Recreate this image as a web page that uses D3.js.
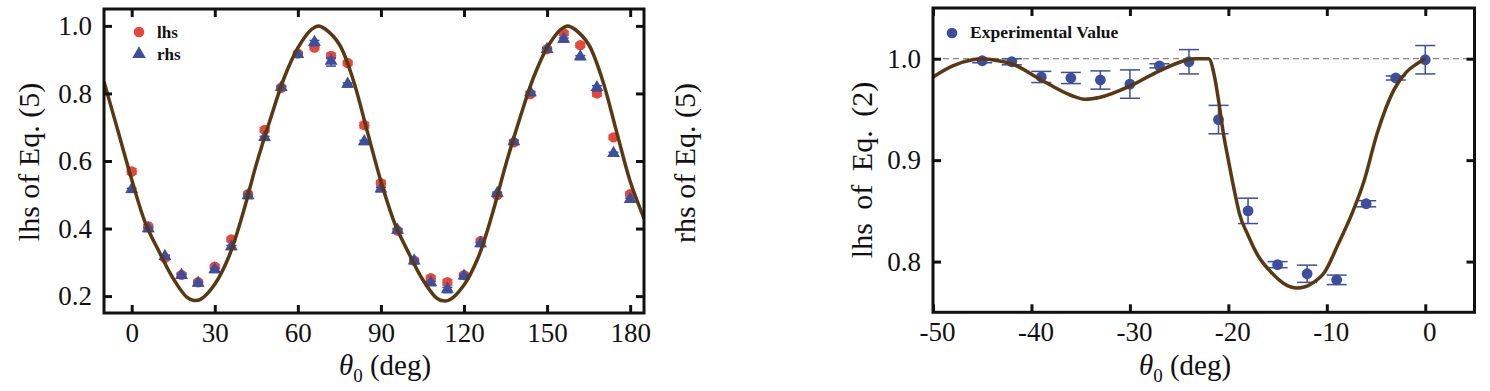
<!DOCTYPE html>
<html>
<head>
<meta charset="utf-8">
<script src="https://cdn.jsdelivr.net/npm/d3@7"></script>
<style>
  body { margin: 0; background: #fff; }
  svg { display: block; }
  text { font-family: "Liberation Serif", "Times New Roman", serif; fill: #111; }
</style>
</head>
<body>
<svg id="chart" width="1490" height="391"></svg>
<script>
// ---------------- Data: left panel (Eq. 5) ----------------
const leftTheta = [0, 6, 12, 18, 24, 30, 36, 42, 48, 54, 60, 66, 72, 78, 84, 90,
                   96, 102, 108, 114, 120, 126, 132, 138, 144, 150, 156, 162, 168, 174, 180];
const lhsVals = [0.569, 0.406, 0.313, 0.263, 0.241, 0.287, 0.368, 0.502, 0.692, 0.817, 0.918, 0.936, 0.911, 0.890, 0.706, 0.534,
                 0.394, 0.305, 0.253, 0.241, 0.262, 0.363, 0.499, 0.655, 0.798, 0.931, 0.978, 0.943, 0.800, 0.670, 0.502];
const rhsVals = [0.513, 0.397, 0.315, 0.259, 0.236, 0.276, 0.344, 0.495, 0.667, 0.815, 0.913, 0.949, 0.893, 0.825, 0.655, 0.515,
                 0.393, 0.302, 0.237, 0.218, 0.257, 0.353, 0.502, 0.655, 0.800, 0.928, 0.958, 0.906, 0.815, 0.620, 0.484];
const lhsErr = [0.008, 0.006, 0.006, 0.006, 0.006, 0.006, 0.006, 0.006, 0.006, 0.006, 0.006, 0.006, 0.008, 0.006, 0.008, 0.008,
                0.006, 0.006, 0.006, 0.008, 0.006, 0.006, 0.006, 0.006, 0.006, 0.006, 0.006, 0.006, 0.008, 0.006, 0.006];
const rhsErr = [0.006, 0.006, 0.006, 0.006, 0.006, 0.006, 0.006, 0.006, 0.006, 0.006, 0.006, 0.008, 0.012, 0.006, 0.006, 0.006,
                0.006, 0.006, 0.006, 0.008, 0.006, 0.006, 0.006, 0.006, 0.006, 0.006, 0.006, 0.006, 0.008, 0.006, 0.006];
const curve5Theta = [-10, -5, 0, 5, 10, 15, 20, 22.5, 25, 30, 35, 40, 45, 50, 55, 60, 65, 67.5, 70, 75, 80, 85,
                     90, 95, 100, 105, 110, 112.5, 115, 120, 125, 130, 135, 140, 145, 150, 155, 157.5, 160, 165, 170, 175, 180, 185];
const curve5Vals = [0.835, 0.69, 0.545, 0.415, 0.330, 0.252, 0.196, 0.187, 0.191, 0.235, 0.315, 0.440, 0.590, 0.722, 0.845, 0.935, 0.990, 1.000, 0.990, 0.945, 0.840, 0.690,
                    0.540, 0.415, 0.328, 0.250, 0.195, 0.186, 0.190, 0.233, 0.312, 0.437, 0.587, 0.722, 0.845, 0.935, 0.990, 1.000, 0.990, 0.945, 0.840, 0.690, 0.540, 0.430];
const leftXTicks = [0, 30, 60, 90, 120, 150, 180];
const leftYTicks = [0.2, 0.4, 0.6, 0.8, 1.0];

// ---------------- Data: right panel (Eq. 2) ----------------
const rightTheta = [-45, -42, -39, -36, -33, -30, -27, -24, -21, -18, -15, -12, -9, -6, -3, 0];
const expVals = [0.998, 0.997, 0.982, 0.981, 0.979, 0.975, 0.993, 0.997, 0.940, 0.850, 0.797, 0.788, 0.782, 0.857, 0.981, 0.999];
const expErr  = [0.002, 0.003, 0.0055, 0.0055, 0.009, 0.014, 0.002, 0.012, 0.014, 0.0125, 0.003, 0.0085, 0.0047, 0.003, 0.002, 0.014];
const curve2Theta = [-50, -48, -46, -45, -44, -42, -39, -36, -34.5, -33, -30, -27, -24.5, -23.5, -22, -21.4, -21, -20.5, -20,
                     -19.2, -18.9, -18, -17, -15.7, -14.3, -13, -11.6, -10.2, -8.9, -7.5, -6.2, -4.9, -3.2, -1.9, -0.85, 0];
const curve2Vals = [0.982, 0.993, 0.999, 1.000, 0.999, 0.995, 0.979, 0.964, 0.960, 0.962, 0.973, 0.988, 0.998, 1.000, 1.000, 0.982, 0.959, 0.926, 0.900,
                    0.861, 0.848, 0.826, 0.806, 0.790, 0.778, 0.774, 0.778, 0.790, 0.816, 0.846, 0.880, 0.926, 0.969, 0.987, 0.995, 1.000];
const rightXTicks = [-50, -40, -30, -20, -10, 0];
const rightYTicks = [0.8, 0.9, 1.0];
const refLine = 1.0;

// ---------------- Styles ----------------
const RED = "#e5483a", BLUE = "#3b4e9f", BROWN = "#5a3812";
const svg = d3.select("#chart");
const plainInt = d => String(d);   // hyphen-minus as in the reference

function frame(g, x, y, xTicks, yTicks, yFmt, labelDx) {
  const [x0, x1] = x.range(), [y0, y1] = y.range();
  const ax = (axis, tr) => {
    const a = g.append("g").attr("transform", tr).call(axis);
    a.select(".domain").remove();
    a.selectAll(".tick line").attr("stroke", "#111").attr("stroke-width", 3);
    a.selectAll(".tick text").attr("font-size", 27).attr("fill", "#111")
      .attr("font-family", "Liberation Serif, serif");
    return a;
  };
  const bx = ax(d3.axisBottom(x).tickValues(xTicks).tickSize(-8).tickPadding(10).tickFormat(plainInt), `translate(0,${y0})`);
  bx.selectAll(".tick text").attr("dx", labelDx);
  ax(d3.axisTop(x).tickValues(xTicks).tickSize(-8).tickFormat(""), `translate(0,${y1})`);
  ax(d3.axisLeft(y).tickValues(yTicks).tickSize(-8).tickPadding(12).tickFormat(yFmt), `translate(${x0},0)`);
  ax(d3.axisRight(y).tickValues(yTicks).tickSize(-8).tickFormat(""), `translate(${x1},0)`);
  g.append("rect").attr("x", x0).attr("y", y1).attr("width", x1 - x0).attr("height", y0 - y1)
    .attr("fill", "none").attr("stroke", "#111").attr("stroke-width", 3);
}

function clip(id, x, y) {
  svg.append("clipPath").attr("id", id).append("rect")
    .attr("x", x.range()[0]).attr("y", y.range()[1])
    .attr("width", x.range()[1] - x.range()[0]).attr("height", y.range()[0] - y.range()[1]);
}

function thetaTitle(g, cx, baseline) {
  const t = g.append("text").attr("x", cx).attr("y", baseline).attr("text-anchor", "middle").attr("font-size", 29);
  t.append("tspan").attr("font-style", "italic").text("θ");
  t.append("tspan").attr("font-size", 19).attr("dy", 7).text("0");
  t.append("tspan").attr("dy", -7).text(" (deg)");
}

function yTitle(g, x, cy, label, spacing) {
  g.append("text").attr("transform", `translate(${x},${cy}) rotate(-90)`)
    .attr("text-anchor", "middle").attr("font-size", 30).attr("word-spacing", spacing).text(label);
}

function errBars(g, x, y, xs, vs, es, color, cap) {
  const eb = g.append("g").attr("stroke", color).attr("stroke-width", 1.5).attr("fill", "none");
  xs.forEach((t, i) => {
    const px = x(t), lo = y(vs[i] - es[i]), hi = y(vs[i] + es[i]);
    eb.append("line").attr("x1", px).attr("x2", px).attr("y1", lo).attr("y2", hi);
    eb.append("line").attr("x1", px - cap).attr("x2", px + cap).attr("y1", lo).attr("y2", lo);
    eb.append("line").attr("x1", px - cap).attr("x2", px + cap).attr("y1", hi).attr("y2", hi);
  });
}

// ---------------- Left panel ----------------
{
  const x = d3.scaleLinear().domain([-10, 185]).range([104, 644]);
  const y = d3.scaleLinear().domain([0.15, 1.05]).range([313, 9]);
  const g = svg.append("g");
  clip("clipL", x, y);

  errBars(g, x, y, leftTheta, lhsVals, lhsErr, RED, 5);
  g.append("g").selectAll("circle").data(leftTheta).join("circle")
    .attr("cx", d => x(d)).attr("cy", (d, i) => y(lhsVals[i])).attr("r", 5.2).attr("fill", RED);
  errBars(g, x, y, leftTheta, rhsVals, rhsErr, BLUE, 5);
  const tri = d3.symbol().type(d3.symbolTriangle).size(72);
  g.append("g").selectAll("path").data(leftTheta).join("path")
    .attr("transform", (d, i) => `translate(${x(d)},${y(rhsVals[i]) - 1})`).attr("d", tri).attr("fill", BLUE);

  const line = d3.line().x(d => x(d)).y((d, i) => y(curve5Vals[i])).curve(d3.curveCatmullRom.alpha(0.5));
  g.append("path").datum(curve5Theta).attr("d", line).attr("fill", "none")
    .attr("stroke", BROWN).attr("stroke-width", 3.5).attr("clip-path", "url(#clipL)");

  frame(g, x, y, leftXTicks, leftYTicks, d3.format(".1f"), 0);

  // legend
  g.append("circle").attr("cx", 139).attr("cy", 32).attr("r", 5.3).attr("fill", RED);
  g.append("text").attr("x", 157).attr("y", 38).attr("font-size", 17).attr("font-weight", "bold").text("lhs");
  g.append("path").attr("transform", "translate(139,54)").attr("d", d3.symbol().type(d3.symbolTriangle).size(80)).attr("fill", BLUE);
  g.append("text").attr("x", 157).attr("y", 60).attr("font-size", 17).attr("font-weight", "bold").text("rhs");

  thetaTitle(g, 385, 375);
  yTitle(g, 39, 162, "lhs of Eq. (5)", 0);
  yTitle(g, 695, 163, "rhs of Eq. (5)", 0);
}

// ---------------- Right panel ----------------
{
  const x = d3.scaleLinear().domain([-50, 5]).range([933, 1474.5]);
  const y = d3.scaleLinear().domain([0.75, 1.05]).range([312.3, 8]);
  const g = svg.append("g");
  clip("clipR", x, y);

  g.append("line").attr("x1", x.range()[0]).attr("x2", x.range()[1])
    .attr("y1", y(refLine)).attr("y2", y(refLine))
    .attr("stroke", "#888").attr("stroke-width", 1.3).attr("stroke-dasharray", "6,4");

  errBars(g, x, y, rightTheta, expVals, expErr, BLUE, 10);
  g.append("g").selectAll("circle").data(rightTheta).join("circle")
    .attr("cx", d => x(d)).attr("cy", (d, i) => y(expVals[i])).attr("r", 5.4).attr("fill", BLUE);

  const line = d3.line().x(d => x(d)).y((d, i) => y(curve2Vals[i])).curve(d3.curveMonotoneX);
  g.append("path").datum(curve2Theta).attr("d", line).attr("fill", "none")
    .attr("stroke", BROWN).attr("stroke-width", 3.5).attr("clip-path", "url(#clipR)");

  frame(g, x, y, rightXTicks, rightYTicks, d3.format(".1f"), 4);

  g.append("circle").attr("cx", 952).attr("cy", 33).attr("r", 5.3).attr("fill", BLUE);
  g.append("text").attr("x", 970).attr("y", 38).attr("font-size", 17.5).attr("font-weight", "bold").text("Experimental Value");

  thetaTitle(g, 1185, 375);
  yTitle(g, 872, 170, "lhs of Eq. (2)", 6);
}
</script>
</body>
</html>
